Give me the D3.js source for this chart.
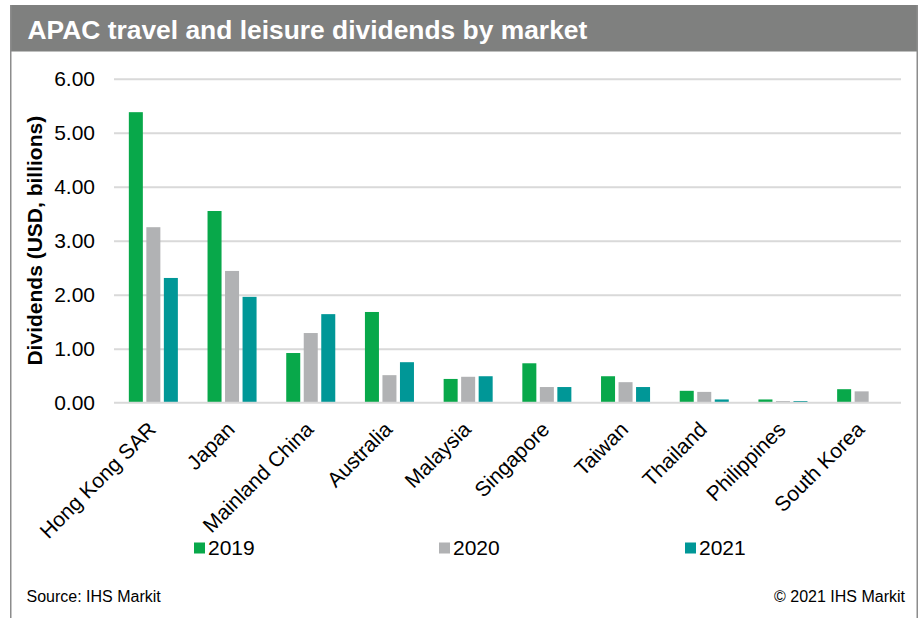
<!DOCTYPE html>
<html>
<head>
<meta charset="utf-8">
<script src="https://cdn.jsdelivr.net/npm/d3@7"></script>
<style>
  html, body { margin: 0; padding: 0; background: #fff; }
  svg { display: block; font-family: "Liberation Sans", Arial, Helvetica, sans-serif; }
</style>
</head>
<body>
<svg id="chart" width="923" height="618"></svg>
<script>
// Markets along the x axis
const categories = ["Hong Kong SAR", "Japan", "Mainland China", "Australia", "Malaysia",
                    "Singapore", "Taiwan", "Thailand", "Philippines", "South Korea"];
// Dividends, USD billions
const values2019 = [5.38, 3.55, 0.92, 1.68, 0.44, 0.73, 0.49, 0.22, 0.06, 0.25];
const values2020 = [3.25, 2.44, 1.29, 0.51, 0.48, 0.29, 0.38, 0.20, 0.03, 0.21];
const values2021 = [2.31, 1.96, 1.64, 0.75, 0.49, 0.29, 0.29, 0.06, 0.03, 0.01];
const seriesNames = ["2019", "2020", "2021"];
const yTicks = [0, 1, 2, 3, 4, 5, 6];

const title = "APAC travel and leisure dividends by market";
const yTitle = "Dividends (USD, billions)";
const sourceText = "Source: IHS Markit";
const copyrightText = "\u00a9 2021 IHS Markit";

const seriesValues = [values2019, values2020, values2021];
const colors = ["#08a84a", "#b1b2b4", "#009797"];

const svg = d3.select("#chart");

// Frame and header band
svg.append("rect").attr("x", 10).attr("y", 5).attr("width", 908).attr("height", 46.5)
  .attr("fill", "#7f807f");
svg.append("line").attr("x1", 10.75).attr("x2", 10.75).attr("y1", 5).attr("y2", 618)
  .attr("stroke", "#8c8c8c").attr("stroke-width", 1.5);
svg.append("line").attr("x1", 917.25).attr("x2", 917.25).attr("y1", 5).attr("y2", 618)
  .attr("stroke", "#8c8c8c").attr("stroke-width", 1.5);
svg.append("text").attr("x", 27.5).attr("y", 39)
  .attr("fill", "#fff").attr("font-weight", "bold").attr("font-size", 26.4)
  .text(title);

// Scales
const plotLeft = 114, plotRight = 901, plotTop = 78.7, plotBottom = 402.7;
const x0 = d3.scaleBand().domain(categories).range([plotLeft, plotRight])
  .paddingInner(0.377).paddingOuter(0.1885);
const x1 = d3.scaleBand().domain(seriesNames).range([0, x0.bandwidth()])
  .paddingInner(0.2).paddingOuter(0);
const y = d3.scaleLinear().domain([0, 6]).range([plotBottom, plotTop]);

// Gridlines
svg.append("g")
  .attr("transform", `translate(${plotLeft},0)`)
  .call(d3.axisLeft(y).tickValues(yTicks.filter(d => d > 0)).tickSize(-(plotRight - plotLeft)).tickFormat(""))
  .call(g => g.select(".domain").remove())
  .call(g => g.selectAll(".tick line").attr("stroke", "#d9d9d9").attr("stroke-width", 2));

// Y axis labels
svg.append("g")
  .attr("transform", `translate(${plotLeft},0)`)
  .call(d3.axisLeft(y).tickValues(yTicks).tickSize(0).tickPadding(19).tickFormat(d3.format(".2f")))
  .call(g => g.select(".domain").remove())
  .call(g => g.selectAll(".tick text")
    .attr("font-family", "'Liberation Sans', Arial, sans-serif")
    .attr("font-size", 21).attr("fill", "#000"));

// Bars
const groups = svg.append("g").selectAll("g")
  .data(categories)
  .join("g")
  .attr("transform", d => `translate(${x0(d)},0)`);

groups.selectAll("rect")
  .data((d, i) => seriesNames.map((s, j) => ({ key: s, value: seriesValues[j][i], color: colors[j] })))
  .join("rect")
  .attr("x", d => x1(d.key))
  .attr("width", x1.bandwidth())
  .attr("y", d => y(d.value))
  .attr("height", d => y(0) - y(d.value))
  .attr("fill", d => d.color);

// X axis with rotated category labels
svg.append("g")
  .attr("transform", `translate(0,${plotBottom})`)
  .call(d3.axisBottom(x0).tickSize(0))
  .call(g => g.select(".domain").remove())
  .call(g => g.selectAll(".tick text")
    .attr("font-family", "'Liberation Sans', Arial, sans-serif")
    .attr("font-size", 21).attr("fill", "#000")
    .attr("y", 0).attr("dy", 0)
    .attr("text-anchor", "end")
    .attr("transform", "translate(4,28) rotate(-45)"));

// Zero baseline
svg.append("line")
  .attr("x1", plotLeft).attr("x2", plotRight)
  .attr("y1", y(0)).attr("y2", y(0))
  .attr("stroke", "#d9d9d9").attr("stroke-width", 2);

// Y axis title
svg.append("text")
  .attr("transform", `translate(42,${(plotTop + plotBottom) / 2}) rotate(-90)`)
  .attr("text-anchor", "middle").attr("font-weight", "bold").attr("font-size", 21)
  .attr("fill", "#000")
  .text(yTitle);

// Legend
const legendX = [194, 439, 685];
const legend = svg.append("g").selectAll("g")
  .data(seriesNames)
  .join("g")
  .attr("transform", (d, i) => `translate(${legendX[i]},0)`);
legend.append("rect").attr("x", 0).attr("y", 542.5).attr("width", 11).attr("height", 11)
  .attr("fill", (d, i) => colors[i]);
legend.append("text").attr("x", 14).attr("y", 555).attr("font-size", 21).attr("fill", "#000")
  .text(d => d);

// Footer
svg.append("text").attr("x", 26.5).attr("y", 602).attr("font-size", 16).attr("fill", "#000")
  .text(sourceText);
svg.append("text").attr("x", 905).attr("y", 602).attr("font-size", 16).attr("fill", "#000")
  .attr("text-anchor", "end").text(copyrightText);
</script>
</body>
</html>
